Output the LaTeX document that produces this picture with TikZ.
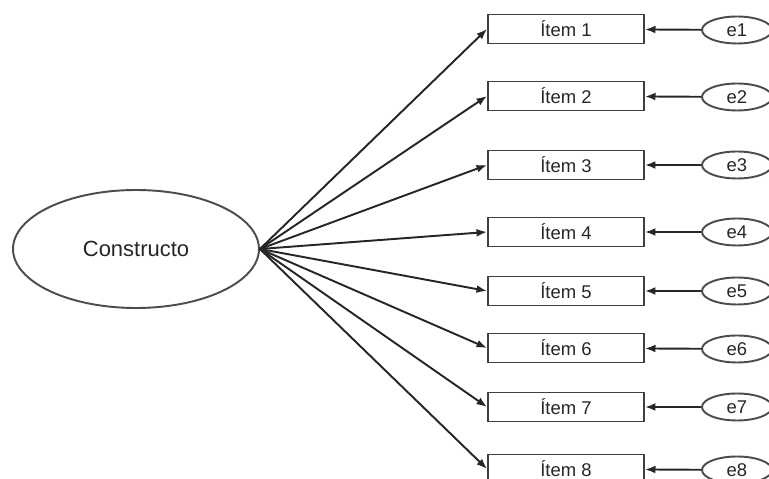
\documentclass[tikz,border=0pt]{standalone}
\usepackage{fontspec}
\setmainfont{Liberation Sans}
\usetikzlibrary{shapes,arrows.meta,positioning}
\tikzset{
    -{Latex[length=6pt,width=4.5pt]},semithick,
    latent/.style ={ellipse, draw=black!70, line width=1.1pt, minimum width=4.92cm, minimum height=2.36cm, text=black!85, font=\fontsize{12.5}{14}\selectfont},
    item/.style = {rectangle, draw=black!75, line width=1.1pt, minimum width=3.12cm, minimum height=0.58cm, inner sep=0pt, text=black!85, font=\fontsize{10.5}{12}\selectfont},
    err/.style = {ellipse, draw=black!70, line width=1.1pt, minimum width=1.4cm, minimum height=0.54cm, inner sep=0pt, text=black!85, font=\fontsize{10.5}{12}\selectfont},
    load/.style = {draw=black!85, line width=1.1pt}
}
\begin{document}
\begin{tikzpicture}[x=0.02cm, y=-0.02cm]

    \useasboundingbox (0,0) rectangle (769,479);

    % Nodes
    \node[latent] (C) at (136,249) {Constructo};

    \node[item] (I1) at (566,29) {Ítem 1};
    \node[item] (I2) at (566,96) {Ítem 2};
    \node[item] (I3) at (566,165) {Ítem 3};
    \node[item] (I4) at (566,232) {Ítem 4};
    \node[item] (I5) at (566,291) {Ítem 5};
    \node[item] (I6) at (566,348) {Ítem 6};
    \node[item] (I7) at (566,407) {Ítem 7};
    \node[item] (I8) at (566,469) {Ítem 8};

    \node[err] (E1) at (737,30) {e1};
    \node[err] (E2) at (737,97) {e2};
    \node[err] (E3) at (737,165) {e3};
    \node[err] (E4) at (737,232) {e4};
    \node[err] (E5) at (737,291) {e5};
    \node[err] (E6) at (737,349) {e6};
    \node[err] (E7) at (737,407) {e7};
    \node[err] (E8) at (737,470) {e8};

    % Edges with arrows
    \draw[load] (C.east) -- (I1.west);
    \draw[load] (C.east) -- (I2.west);
    \draw[load] (C.east) -- (I3.west);
    \draw[load] (C.east) -- (I4.west);
    \draw[load] (C.east) -- (I5.west);
    \draw[load] (C.east) -- (I6.west);
    \draw[load] (C.east) -- (I7.west);
    \draw[load] (C.east) -- (I8.west);

    \draw[load] (E1) -- (I1);
    \draw[load] (E2) -- (I2);
    \draw[load] (E3) -- (I3);
    \draw[load] (E4) -- (I4);
    \draw[load] (E5) -- (I5);
    \draw[load] (E6) -- (I6);
    \draw[load] (E7) -- (I7);
    \draw[load] (E8) -- (I8);

    \end{tikzpicture}
\end{document}
